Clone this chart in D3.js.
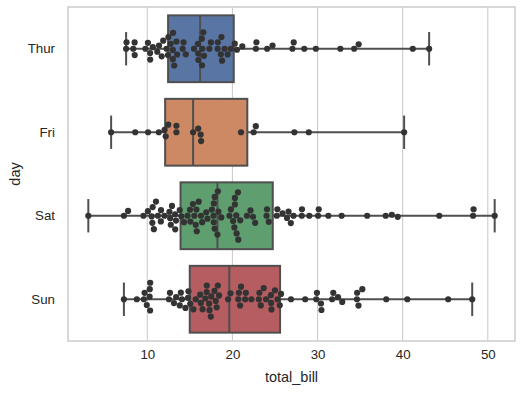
<!DOCTYPE html>
<html>
<head>
<meta charset="utf-8">
<script src="https://cdn.jsdelivr.net/npm/d3@7"></script>
<style>
  body { margin: 0; background: #fff; }
  text { font-family: "Liberation Sans", Arial, sans-serif; fill: #262626; }
</style>
</head>
<body>
<div id="display"></div>
<script>
var days = ["Thur", "Fri", "Sat", "Sun"];
var boxColours = ["#5875a4", "#cc8963", "#5f9e6e", "#b55d60"];
var xTicks = [10, 20, 30, 40, 50];

var thurBills = [27.2, 22.76, 17.29, 19.44, 16.66, 10.07, 32.68, 15.98, 34.83, 13.03, 18.28, 24.71, 21.16,
  10.65, 12.43, 24.08, 11.69, 13.42, 14.26, 15.95, 12.48, 29.8, 8.52, 14.52, 11.38, 22.82, 19.08, 20.27,
  11.17, 12.26, 18.26, 8.51, 10.33, 14.15, 16.0, 13.16, 17.47, 34.3, 41.19, 27.05, 16.43, 8.35, 18.64,
  11.87, 9.78, 7.51, 19.81, 28.44, 15.48, 16.58, 7.56, 10.34, 43.11, 13.0, 13.51, 18.71, 12.74, 13.0,
  16.4, 20.53, 16.47, 18.78];
var friBills = [28.97, 22.49, 5.75, 16.32, 22.75, 40.17, 27.28, 12.03, 21.01, 12.46, 11.35, 15.38,
  12.16, 13.42, 8.58, 15.98, 13.42, 16.27, 10.09];
var satBills = [20.65, 17.92, 20.29, 15.77, 39.42, 19.82, 17.81, 13.37, 12.69, 21.7, 19.65, 9.55, 18.35,
  15.06, 20.69, 17.78, 24.06, 16.31, 16.93, 18.69, 31.27, 16.04, 38.01, 26.41, 11.24, 48.27, 20.29,
  13.81, 11.02, 18.29, 17.59, 20.08, 16.45, 3.07, 20.23, 15.01, 12.02, 17.07, 26.86, 25.28, 14.73,
  10.51, 17.92, 44.3, 22.42, 20.92, 15.36, 20.49, 25.21, 18.24, 14.31, 14.0, 7.25, 10.59, 10.63, 50.81,
  15.81, 26.59, 38.73, 24.27, 12.76, 30.06, 25.89, 48.33, 13.27, 28.17, 12.9, 28.15, 11.59, 7.74,
  30.14, 20.45, 13.28, 22.12, 24.01, 15.69, 11.61, 10.77, 15.53, 10.07, 12.6, 32.83, 35.83, 29.03,
  27.18, 22.67, 17.82];
var sunBills = [16.99, 10.34, 21.01, 23.68, 24.59, 25.29, 8.77, 26.88, 15.04, 14.78, 10.27, 35.26, 15.42,
  18.43, 14.83, 21.58, 10.33, 16.29, 16.97, 17.46, 13.94, 9.68, 30.4, 18.29, 22.23, 32.4, 28.55, 18.04,
  12.54, 10.29, 34.81, 9.94, 25.56, 19.49, 38.07, 23.95, 25.71, 17.31, 29.93, 14.07, 13.13, 17.26,
  24.55, 19.77, 29.85, 48.17, 25.0, 13.39, 16.49, 21.5, 12.66, 16.21, 13.81, 17.51, 24.52, 20.76,
  31.71, 7.25, 31.85, 16.82, 32.9, 17.89, 14.48, 9.6, 34.63, 34.65, 23.33, 45.35, 23.17, 40.55, 20.69,
  20.9, 30.46, 18.15, 23.1, 15.69];
var billsByDay = [thurBills, friBills, satBills, sunBills];

var W = 523, H = 393;
var margin = {top: 7, right: 8, bottom: 52, left: 68};
var width = W - margin.left - margin.right,
    height = H - margin.top - margin.bottom;

var svg = d3.select("#display").append("svg")
    .attr("width", W)
    .attr("height", H);

var g = svg.append("g")
    .attr("transform", "translate(" + margin.left + "," + margin.top + ")");

var allBills = d3.merge(billsByDay);
var lo = d3.min(allBills), hi = d3.max(allBills), pad = (hi - lo) * 0.05;

var x = d3.scaleLinear()
    .domain([lo - pad, hi + pad])
    .range([0, width]);

var y = d3.scaleBand()
    .domain(days)
    .range([0, height]);

var lineGrey = "#4f4f4f";

// grid
g.append("g")
  .selectAll("line")
  .data(xTicks)
  .enter().append("line")
    .attr("x1", function(d) { return x(d); })
    .attr("x2", function(d) { return x(d); })
    .attr("y1", 0)
    .attr("y2", height)
    .attr("stroke", "#cccccc")
    .attr("stroke-width", 1.1);

// axes (no tick marks, labels only)
var xAxis = g.append("g")
    .attr("transform", "translate(0," + height + ")")
    .call(d3.axisBottom(x).tickValues(xTicks).tickSize(0).tickPadding(9));
var yAxis = g.append("g")
    .call(d3.axisLeft(y).tickSize(0).tickPadding(13));
[xAxis, yAxis].forEach(function(a) {
  a.select(".domain").remove();
  a.selectAll("text")
    .attr("font-size", "13.3px")
    .attr("font-family", "Liberation Sans, Arial, sans-serif")
    .attr("fill", "#262626");
});

// boxes
var boxW = y.bandwidth() * 0.8;
var stats = billsByDay.map(function(vals, i) {
  var s = vals.slice().sort(d3.ascending);
  return {
    day: days[i],
    colour: boxColours[i],
    min: s[0],
    q1: d3.quantile(s, 0.25),
    med: d3.quantile(s, 0.5),
    q3: d3.quantile(s, 0.75),
    max: s[s.length - 1]
  };
});

var box = g.append("g")
  .selectAll("g")
  .data(stats)
  .enter().append("g")
    .attr("transform", function(d) { return "translate(0," + (y(d.day) + y.bandwidth() / 2) + ")"; });

box.append("line")
    .attr("x1", function(d) { return x(d.min); })
    .attr("x2", function(d) { return x(d.q1); })
    .attr("stroke", lineGrey).attr("stroke-width", 2);
box.append("line")
    .attr("x1", function(d) { return x(d.q3); })
    .attr("x2", function(d) { return x(d.max); })
    .attr("stroke", lineGrey).attr("stroke-width", 2);
box.append("line")
    .attr("x1", function(d) { return x(d.min); })
    .attr("x2", function(d) { return x(d.min); })
    .attr("y1", -boxW / 4).attr("y2", boxW / 4)
    .attr("stroke", lineGrey).attr("stroke-width", 2);
box.append("line")
    .attr("x1", function(d) { return x(d.max); })
    .attr("x2", function(d) { return x(d.max); })
    .attr("y1", -boxW / 4).attr("y2", boxW / 4)
    .attr("stroke", lineGrey).attr("stroke-width", 2);
box.append("rect")
    .attr("x", function(d) { return x(d.q1); })
    .attr("y", -boxW / 2)
    .attr("width", function(d) { return x(d.q3) - x(d.q1); })
    .attr("height", boxW)
    .attr("fill", function(d) { return d.colour; })
    .attr("stroke", lineGrey).attr("stroke-width", 2);
box.append("line")
    .attr("x1", function(d) { return x(d.med); })
    .attr("x2", function(d) { return x(d.med); })
    .attr("y1", -boxW / 2).attr("y2", boxW / 2)
    .attr("stroke", lineGrey).attr("stroke-width", 2);

// swarm: place points in value order, nudging off the centre line when they would overlap
var dotR = 3.1, dotD = dotR * 2;

function swarm(vals) {
  var pts = vals.map(function(v) { return {v: v, px: x(v)}; })
    .sort(function(a, b) { return a.px - b.px; });
  var placed = [];
  pts.forEach(function(p) {
    var neighbours = [];
    for (var j = placed.length - 1; j >= 0; j--) {
      if (p.px - placed[j].px < dotD) neighbours.unshift(placed[j]);
      else break;
    }
    var cands = [0];
    var upFirst = true;
    neighbours.forEach(function(n) {
      var dx = p.px - n.px;
      var off = Math.sqrt(Math.max(dotD * dotD - dx * dx, 0)) * 1.05;
      if (upFirst) cands.push(n.off - off, n.off + off);
      else cands.push(n.off + off, n.off - off);
      upFirst = !upFirst;
    });
    var order = cands.map(function(c, i) { return i; })
      .sort(function(a, b) { return Math.abs(cands[a]) - Math.abs(cands[b]) || a - b; });
    var chosen = cands[order[0]];
    for (var k = 0; k < order.length; k++) {
      var c = cands[order[k]];
      var ok = neighbours.every(function(n) {
        var dx = n.px - p.px, dy = n.off - c;
        return dx * dx + dy * dy >= dotD * dotD - 1e-9;
      });
      if (ok) { chosen = c; break; }
    }
    p.off = chosen;
    placed.push(p);
  });
  return placed;
}

var dots = g.append("g")
  .selectAll("g")
  .data(billsByDay)
  .enter().append("g")
    .attr("transform", function(d, i) { return "translate(0," + (y(days[i]) + y.bandwidth() / 2) + ")"; });

dots.selectAll("circle")
  .data(function(d) { return swarm(d); })
  .enter().append("circle")
    .attr("cx", function(d) { return d.px; })
    .attr("cy", function(d) { return d.off; })
    .attr("r", dotR)
    .attr("fill", "#333333");

// frame
g.append("rect")
    .attr("width", width)
    .attr("height", height)
    .attr("fill", "none")
    .attr("stroke", "#cccccc")
    .attr("stroke-width", 1.5);

// labels
svg.append("text")
    .attr("x", margin.left + width / 2)
    .attr("y", 382)
    .attr("text-anchor", "middle")
    .attr("font-size", "14.5px")
    .text("total_bill");

svg.append("text")
    .attr("transform", "translate(20," + (margin.top + height / 2) + ") rotate(-90)")
    .attr("text-anchor", "middle")
    .attr("font-size", "14.5px")
    .text("day");
</script>
</body>
</html>
